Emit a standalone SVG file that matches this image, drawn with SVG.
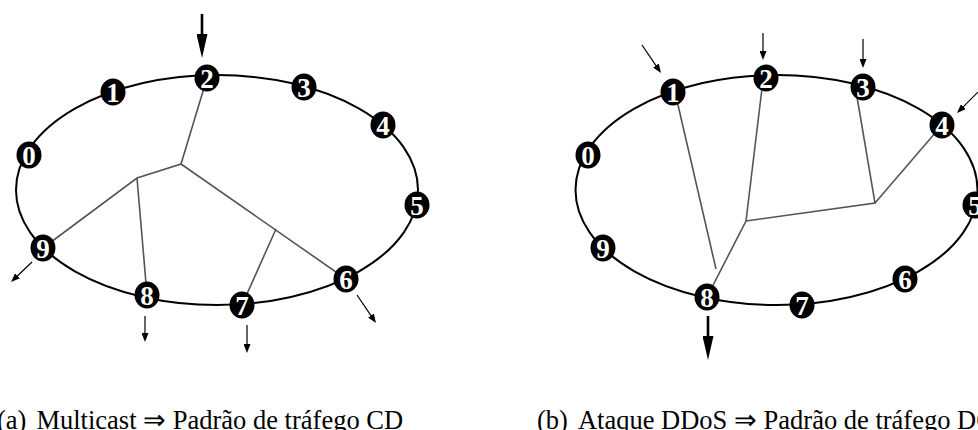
<svg xmlns="http://www.w3.org/2000/svg" width="978" height="430" viewBox="0 0 978 430">
<style>
.ring{fill:none;stroke:#000;stroke-width:2}
.tree{stroke:#555;stroke-width:1.6;fill:none}
.thin{stroke:#000;stroke-width:1.2;marker-end:url(#ah)}
.thick{stroke:#000;stroke-width:2.6;marker-end:url(#ahb)}
.nd ellipse{fill:#000}
.nd text{fill:#fff;font-family:"Liberation Serif","Times New Roman",serif;font-weight:bold;font-size:27px;text-anchor:middle}
.cap{font-family:"Liberation Serif","Times New Roman",serif;font-size:26.5px;fill:#000}
</style>
<defs>
<marker id="ah" markerUnits="userSpaceOnUse" markerWidth="9" markerHeight="7" refX="1" refY="3.5" orient="auto"><path d="M0,0 L9,3.5 L0,7 z" fill="#000"/></marker>
<marker id="ahb" markerUnits="userSpaceOnUse" markerWidth="24" markerHeight="11" refX="2" refY="5.5" orient="auto"><path d="M0,0 L24,5.5 L0,11 z" fill="#000"/></marker>
</defs>
<g id="rings">
<ellipse class="ring" cx="217" cy="190" rx="201" ry="115"/>
<ellipse class="ring" cx="776.5" cy="190" rx="201" ry="115"/>
</g>
<g id="connectors">
<path class="tree" d="M207,78 L181,164 L137,178 L43,248 M137,178 L147,295 M181,164 L346,279 M276,229 L242,305"/>
<path class="tree" d="M675,92 L716,269 M763,80 L746,221 L707,297 M746,221 L875,203 L855.5,88 M875,203 L942,125"/>
<line class="thick" x1="202" y1="14" x2="202" y2="36"/>
<line class="thin" x1="32" y1="262" x2="16.8" y2="276.5"/>
<line class="thin" x1="145" y1="316" x2="145" y2="334"/>
<line class="thin" x1="247" y1="325" x2="247" y2="345"/>
<line class="thin" x1="357" y1="295" x2="371.5" y2="316.4"/>
<line class="thin" x1="642" y1="45" x2="656.5" y2="66.4"/>
<line class="thin" x1="763" y1="33" x2="763" y2="52"/>
<line class="thin" x1="863" y1="39" x2="863" y2="60"/>
<line class="thin" x1="980" y1="90" x2="962.7" y2="107.3"/>
<line class="thick" x1="708" y1="316" x2="708" y2="338"/>
</g>
<g id="a0" class="nd"><ellipse cx="29" cy="155" rx="12.5" ry="13.5"/><text x="29" y="164.5">0</text></g>
<g id="a1" class="nd"><ellipse cx="113" cy="92" rx="12.5" ry="13.5"/><text x="113" y="101.5">1</text></g>
<g id="a2" class="nd"><ellipse cx="207" cy="78" rx="12.5" ry="13.5"/><text x="207" y="87.5">2</text></g>
<g id="a3" class="nd"><ellipse cx="304" cy="87" rx="12.5" ry="13.5"/><text x="304" y="96.5">3</text></g>
<g id="a4" class="nd"><ellipse cx="383" cy="125" rx="12.5" ry="13.5"/><text x="383" y="134.5">4</text></g>
<g id="a5" class="nd"><ellipse cx="417" cy="205" rx="12.5" ry="13.5"/><text x="417" y="214.5">5</text></g>
<g id="a6" class="nd"><ellipse cx="346" cy="279" rx="12.5" ry="13.5"/><text x="346" y="288.5">6</text></g>
<g id="a7" class="nd"><ellipse cx="242" cy="305" rx="12.5" ry="13.5"/><text x="242" y="314.5">7</text></g>
<g id="a8" class="nd"><ellipse cx="147" cy="295" rx="12.5" ry="13.5"/><text x="147" y="304.5">8</text></g>
<g id="a9" class="nd"><ellipse cx="43" cy="248" rx="12.5" ry="13.5"/><text x="43" y="257.5">9</text></g>
<g id="b0" class="nd"><ellipse cx="588" cy="155" rx="12.5" ry="13.5"/><text x="588" y="164.5">0</text></g>
<g id="b1" class="nd"><ellipse cx="673" cy="92" rx="12.5" ry="13.5"/><text x="673" y="101.5">1</text></g>
<g id="b2" class="nd"><ellipse cx="766" cy="78" rx="12.5" ry="13.5"/><text x="766" y="87.5">2</text></g>
<g id="b3" class="nd"><ellipse cx="863" cy="87" rx="12.5" ry="13.5"/><text x="863" y="96.5">3</text></g>
<g id="b4" class="nd"><ellipse cx="942" cy="125" rx="12.5" ry="13.5"/><text x="942" y="134.5">4</text></g>
<g id="b5" class="nd"><ellipse cx="975" cy="205" rx="12.5" ry="13.5"/><text x="975" y="214.5">5</text></g>
<g id="b6" class="nd"><ellipse cx="905" cy="279" rx="12.5" ry="13.5"/><text x="905" y="288.5">6</text></g>
<g id="b7" class="nd"><ellipse cx="802" cy="305" rx="12.5" ry="13.5"/><text x="802" y="314.5">7</text></g>
<g id="b8" class="nd"><ellipse cx="707" cy="297" rx="12.5" ry="13.5"/><text x="707" y="306.5">8</text></g>
<g id="b9" class="nd"><ellipse cx="603" cy="248" rx="12.5" ry="13.5"/><text x="603" y="257.5">9</text></g>
<g id="captions">
<text class="cap" x="-3" y="429">(a)<tspan dx="10">Multicast ⇒ Padrão de tráfego CD</tspan></text>
<text class="cap" x="537" y="429">(b)<tspan dx="10">Ataque DDoS ⇒ Padrão de tráfego DC</tspan></text>
</g>
</svg>
